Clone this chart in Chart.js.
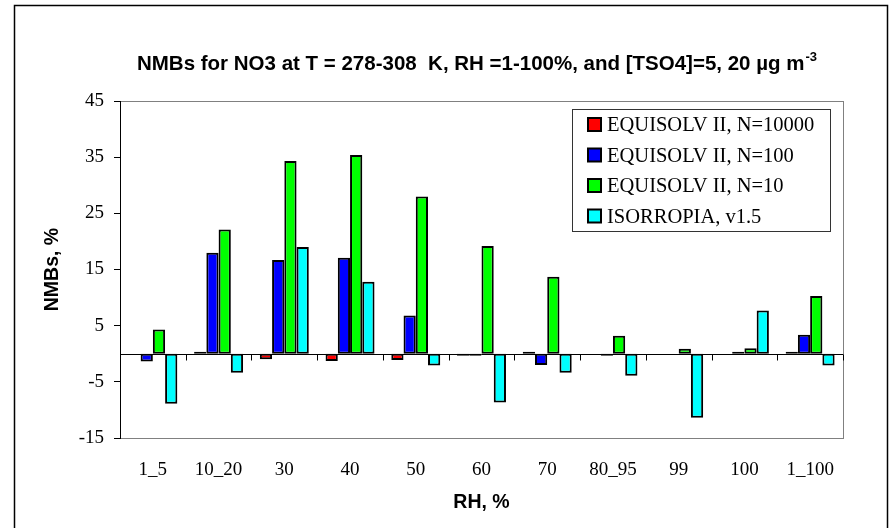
<!DOCTYPE html>
<html>
<head>
<meta charset="utf-8">
<script src="https://cdn.jsdelivr.net/npm/chart.js@4.4.1/dist/chart.umd.min.js"></script>
<style>
  html, body { margin: 0; padding: 0; background: #fff; }
  #wrap { width: 894px; height: 528px; }
</style>
</head>
<body>
<div id="wrap"><canvas id="myChart" width="894" height="528"></canvas></div>
<script>
const categories = ['1_5', '10_20', '30', '40', '50', '60', '70', '80_95', '99', '100', '1_100'];
const seriesNames = ['EQUISOLV II, N=10000', 'EQUISOLV II, N=100', 'EQUISOLV II, N=10', 'ISORROPIA, v1.5'];
const n10000 = [null, 0.1, -1.0, -1.3, -1.1, -0.2, 0.1, null, null, null, 0.1];
const n100 = [-1.4, 18.0, 16.7, 17.1, 6.8, -0.2, -2.0, -0.1, null, 0.1, 3.4];
const n10 = [4.3, 22.1, 34.3, 35.4, 28.0, 19.2, 13.7, 3.2, 0.9, 1.0, 10.3];
const isorropia = [-8.9, -3.4, 19.0, 12.8, -2.1, -8.7, -3.4, -3.9, -11.4, 7.7, -2.1];
const colors = ['#ff0000', '#0000ff', '#00ff00', '#00ffff'];

const serif = '"Liberation Serif", "Times New Roman", serif';
const sans = '"Liberation Sans", Arial, sans-serif';

// frame, plot box, zero line and the little ticks that sit on it
const decor = {
    id: 'decor',
    beforeDatasetsDraw(chart) {
        const c = chart.ctx, a = chart.chartArea;
        const x = chart.scales.x, y = chart.scales.y;
        c.save();
        c.strokeStyle = '#000';
        c.lineWidth = 1.5;
        c.strokeRect(14.5, 5.5, 873, 600);
        c.lineWidth = 1;
        c.strokeStyle = '#808080';
        c.strokeRect(a.left + 0.5, a.top + 0.5, a.right - a.left, a.bottom - a.top);
        c.strokeStyle = '#000';
        c.beginPath();
        c.moveTo(a.left + 0.5, a.top);
        c.lineTo(a.left + 0.5, a.bottom + 1);
        const y0 = Math.round(y.getPixelForValue(0)) + 0.5;
        c.moveTo(a.left, y0);
        c.lineTo(a.right, y0);
        for (let i = 0; i < categories.length; i++) {
            const bx = Math.round((x.getPixelForValue(i) + x.getPixelForValue(i + 1)) / 2) + 0.5;
            c.moveTo(bx, y0);
            c.lineTo(bx, y0 + 6);
        }
        c.stroke();
        c.restore();
    },
    afterDraw(chart) {
        const c = chart.ctx;
        c.save();
        // title with superscript
        const main = 'NMBs for NO3 at T = 278-308  K, RH =1-100%, and [TSO4]=5, 20 µg m';
        const sup = '-3';
        c.font = 'bold 20.5px ' + sans;
        const w1 = c.measureText(main).width;
        c.font = 'bold 13px ' + sans;
        const w2 = c.measureText(sup).width;
        let tx = 476.5 - (w1 + w2) / 2;
        c.fillStyle = '#000';
        c.textBaseline = 'alphabetic';
        c.textAlign = 'left';
        c.font = 'bold 20.5px ' + sans;
        c.fillText(main, tx, 70);
        c.font = 'bold 13px ' + sans;
        c.fillText(sup, tx + w1 + 1, 61);

        // legend box
        const lx = 572, ly = 109, lw = 258, lh = 122;
        c.fillStyle = '#fff';
        c.fillRect(lx, ly, lw, lh);
        c.strokeStyle = '#333';
        c.lineWidth = 1;
        c.strokeRect(lx + 0.5, ly + 0.5, lw, lh);
        c.font = '20.5px ' + serif;
        c.textBaseline = 'middle';
        chart.data.datasets.forEach((ds, i) => {
            const cy = 125 + i * 30.5;
            c.fillStyle = ds.backgroundColor;
            c.fillRect(588, cy - 7, 13, 13);
            c.strokeStyle = '#000';
            c.lineWidth = 2;
            c.strokeRect(588, cy - 7, 13, 13);
            c.fillStyle = '#000';
            c.fillText(ds.label, 607, cy + 1);
        });
        c.restore();
    }
};

const ctx = document.getElementById('myChart');
const chart = new Chart(ctx, {
    type: 'bar',
    data: {
        labels: categories,
        datasets: [n10000, n100, n10, isorropia].map((vals, i) => ({
            label: seriesNames[i],
            data: vals,
            backgroundColor: colors[i],
            borderColor: '#000',
            borderWidth: 2,
            borderSkipped: false,
            minBarLength: 2
        }))
    },
    options: {
        responsive: false,
        animation: false,
        layout: { padding: { left: 30, right: 51, top: 101, bottom: 0 } },
        datasets: { bar: { categoryPercentage: 0.745, barPercentage: 1 } },
        plugins: {
            legend: { display: false },
            title: { display: false },
            tooltip: { enabled: false }
        },
        scales: {
            x: {
                afterFit(s) { s.height = 90; },
                grid: { display: false, drawTicks: false },
                border: { display: false },
                ticks: { color: '#000', padding: 21, font: { family: serif, size: 19 }, maxRotation: 0 },
                title: { display: true, text: 'RH, %', color: '#000', padding: { top: 0, bottom: 14 },
                    font: { family: sans, size: 19.5, weight: 'bold' } }
            },
            y: {
                min: -15,
                max: 45,
                afterFit(s) { s.width = 90; },
                grid: { display: true, drawOnChartArea: false, drawTicks: true, tickLength: 6, color: '#000' },
                border: { display: false },
                ticks: { stepSize: 10, color: '#000', padding: 10, font: { family: serif, size: 19 } },
                title: { display: true, text: 'NMBs, %', color: '#000', padding: { top: 11, bottom: 0 },
                    font: { family: sans, size: 19.5, weight: 'bold' } }
            }
        }
    },
    plugins: [decor]
});
</script>
</body>
</html>
